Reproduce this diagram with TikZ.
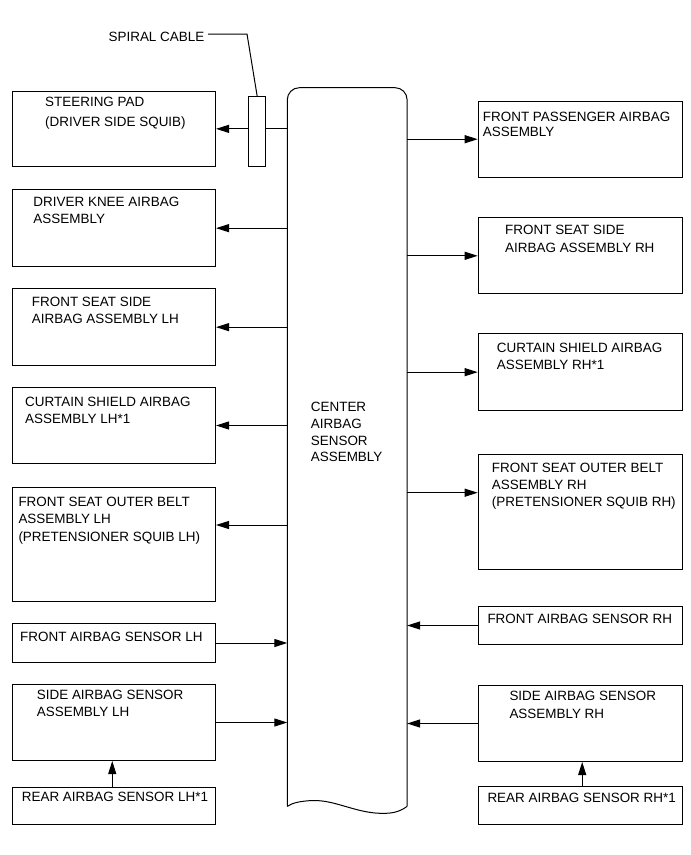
\documentclass[tikz,border=0pt]{standalone}
\usepackage{fontspec}
\setmainfont{Liberation Sans}
\usetikzlibrary{arrows.meta}
\begin{document}
\begin{tikzpicture}[x=1pt,y=-1pt,
  box/.style={draw, line width=1pt, inner sep=0pt, anchor=north west, fill=white},
  lbl/.style={anchor=base west, inner sep=0pt, align=left, font=\fontsize{13.45}{#1}\selectfont},
  lbl/.default=17.3,
  arr/.style={line width=1pt, -{Triangle[length=13pt,width=8pt]}},
  lw/.style={line width=1pt}]
\useasboundingbox (0,0) rectangle (691,855);

% center column
\node[inner sep=0pt, minimum width=119.4pt, minimum height=718.3pt, anchor=north west] (ecu) at (287.3,87.7) {};
\draw[lw, rounded corners=12pt] (ecu.south west) -- (ecu.north west) -- (ecu.north east) -- (ecu.south east);
\draw[lw] (ecu.south east) .. controls (398,813) and (390,813.5) .. (380,813.3)
  .. controls (355,812.5) and (335,800) .. (313,800.5)
  .. controls (300,801) and (292,803) .. (ecu.south west);
\node[lbl=16.7] (ecut) at (310.7,461.7) {CENTER\\AIRBAG\\SENSOR\\ASSEMBLY};

% left boxes
\node[box, minimum width=203.3pt, minimum height=75.3pt] (sp) at (11.7,90.7) {};
\node[box, minimum width=203.3pt, minimum height=76.7pt] (dk) at (11.7,189.3) {};
\node[box, minimum width=203.3pt, minimum height=76.7pt] (fsl) at (11.7,288.3) {};
\node[box, minimum width=203.3pt, minimum height=76.6pt] (csl) at (11.7,386.7) {};
\node[box, minimum width=203.3pt, minimum height=113.4pt] (obl) at (11.7,487.3) {};
\node[box, minimum width=203.3pt, minimum height=38.4pt] (fal) at (11.7,623.3) {};
\node[box, minimum width=203.3pt, minimum height=76pt] (ssl) at (11.7,684) {};
\node[box, minimum width=203.3pt, minimum height=37.3pt] (ral) at (11.7,786.7) {};

\node[lbl=19.3] (spt) at (45,126.2) {STEERING PAD\\(DRIVER SIDE SQUIB)};
\node[lbl=16.7] (dkt) at (33.3,223) {DRIVER KNEE AIRBAG\\ASSEMBLY};
\node[lbl=17.3] (fslt) at (31.7,323.6) {FRONT SEAT SIDE\\AIRBAG ASSEMBLY LH};
\node[lbl=16.7] (cslt) at (25,423) {CURTAIN SHIELD AIRBAG\\ASSEMBLY LH*1};
\node[lbl=17.5] (oblt) at (18.3,541.3) {FRONT SEAT OUTER BELT\\ASSEMBLY LH\\(PRETENSIONER SQUIB LH)};
\node[lbl] (falt) at (20,641.3) {FRONT AIRBAG SENSOR LH};
\node[lbl=17.3] (sslt) at (36.7,716.9) {SIDE AIRBAG SENSOR\\ASSEMBLY LH};
\node[lbl] (ralt) at (21.7,801.3) {REAR AIRBAG SENSOR LH*1};

% right boxes
\node[box, minimum width=204pt, minimum height=76pt] (fp) at (477.7,100.7) {};
\node[box, minimum width=204pt, minimum height=76pt] (fsr) at (477.7,217.3) {};
\node[box, minimum width=204pt, minimum height=76.7pt] (csr) at (477.7,333.3) {};
\node[box, minimum width=204pt, minimum height=115.3pt] (obr) at (477.7,454) {};
\node[box, minimum width=204pt, minimum height=38pt] (far) at (477.7,606) {};
\node[box, minimum width=204pt, minimum height=76pt] (ssr) at (477.7,685) {};
\node[box, minimum width=204pt, minimum height=38.3pt] (rar) at (477.7,786) {};

\node[lbl=15] (fpt) at (482.7,136.3) {FRONT PASSENGER AIRBAG\\ASSEMBLY};
\node[lbl=17.7] (fsrt) at (505,252.3) {FRONT SEAT SIDE\\AIRBAG ASSEMBLY RH};
\node[lbl=17.3] (csrt) at (496.7,369.6) {CURTAIN SHIELD AIRBAG\\ASSEMBLY RH*1};
\node[lbl=17.3] (obrt) at (491.7,506.9) {FRONT SEAT OUTER BELT\\ASSEMBLY RH\\(PRETENSIONER SQUIB RH)};
\node[lbl] (fart) at (487.3,623.9) {FRONT AIRBAG SENSOR RH};
\node[lbl=18] (ssrt) at (509.3,718.6) {SIDE AIRBAG SENSOR\\ASSEMBLY RH};
\node[lbl] (rart) at (487.3,802.9) {REAR AIRBAG SENSOR RH*1};

% spiral cable
\node[box, minimum width=16.7pt, minimum height=69.7pt] (sc) at (248.3,96) {};
\node[lbl, anchor=base east] (sct) at (204.5,41.3) {SPIRAL CABLE};
\coordinate (scl) at (208,34);
\draw[lw] (scl) -- ++(39,0) -- (sc.north);

% connectors left
\draw[lw] (ecu.west |- sp.east) -- (sc.east |- sp.east);
\draw[arr] (sc.west |- sp.east) -- (sp.east);
\draw[arr] (ecu.west |- dk.east) -- (dk.east);
\draw[arr] (ecu.west |- fsl.east) -- (fsl.east);
\draw[arr] (ecu.west |- csl.east) -- (csl.east);
\draw[arr] ([yshift=-37.7pt]obl.north east -| ecu.west) -- ([yshift=-37.7pt]obl.north east);
\draw[arr] (fal.east) -- (fal.east -| ecu.west);
\draw[arr] (ssl.east) -- (ssl.east -| ecu.west);
\draw[arr] ([xshift=-1.6pt]ral.north) -- ([xshift=-1.6pt]ral.north |- ssl.south);

% connectors right
\draw[arr] (ecu.east |- fp.west) -- (fp.west);
\draw[arr] (ecu.east |- fsr.west) -- (fsr.west);
\draw[arr] (ecu.east |- csr.west) -- (csr.west);
\draw[arr] ([yshift=-38.7pt]obr.north west -| ecu.east) -- ([yshift=-38.7pt]obr.north west);
\draw[arr] (far.west) -- (far.west -| ecu.east);
\draw[arr] (ssr.west) -- (ssr.west -| ecu.east);
\draw[arr] ([xshift=2pt]rar.north) -- ([xshift=2pt]rar.north |- ssr.south);
\end{tikzpicture}
\end{document}
